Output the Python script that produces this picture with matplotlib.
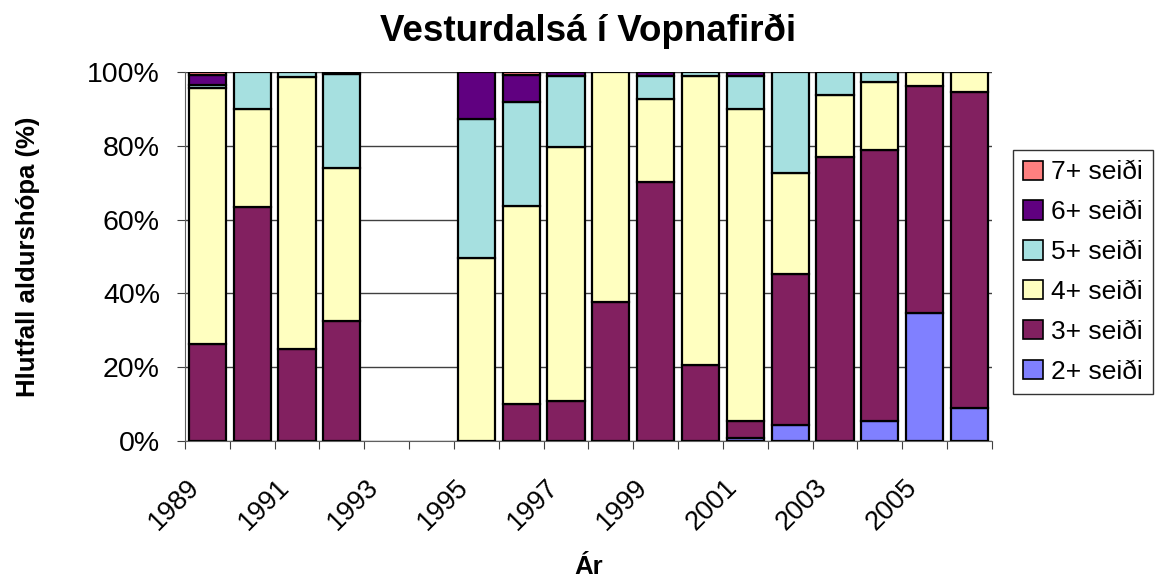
import numpy as np
import matplotlib
matplotlib.use("Agg")
import matplotlib.pyplot as plt
from matplotlib.patches import Patch
from matplotlib.transforms import ScaledTranslation

plt.rcParams['font.family'] = ['Liberation Sans', 'DejaVu Sans']

years = list(range(1989, 2007))
groups = ['2+ seiði', '3+ seiði', '4+ seiði', '5+ seiði', '6+ seiði', '7+ seiði']
colors = ['#8080FF', '#822060', '#FFFFC0', '#A6E0E0', '#600080', '#FF8080']

# hlutfall (%) eftir árum, 1993 og 1994 vantar
s2 = [0, 0, 0, 0, 0, 0, 0, 0, 0, 0, 0, 0, 0.7, 4.4, 0, 5.5, 34.6, 9.0]
s3 = [26.3, 63.4, 25.0, 32.4, 0, 0, 0, 10.0, 10.9, 37.6, 70.3, 20.5, 4.8, 40.9, 77.1, 73.4, 61.6, 85.6]
s4 = [69.4, 26.6, 73.6, 41.7, 0, 0, 49.5, 53.6, 68.9, 62.4, 22.3, 78.5, 84.5, 27.3, 16.8, 18.4, 3.8, 5.4]
s5 = [0.7, 10.0, 1.4, 25.3, 0, 0, 37.9, 28.3, 19.0, 0, 6.2, 1.0, 8.8, 27.4, 6.1, 2.7, 0, 0]
s6 = [2.9, 0, 0, 0.6, 0, 0, 12.6, 7.3, 1.2, 0, 1.2, 0, 1.2, 0, 0, 0, 0, 0]
s7 = [0.7, 0, 0, 0, 0, 0, 0, 0.8, 0, 0, 0, 0, 0, 0, 0, 0, 0, 0]
series = [s2, s3, s4, s5, s6, s7]

fig = plt.figure(figsize=(11.56, 5.81), dpi=100)
ax = fig.add_axes([0.160, 0.241, 0.698, 0.635])

x = np.arange(len(years))
bottom = np.zeros(len(years))
for vals, col in zip(series, colors):
    vals = np.array(vals, dtype=float)
    bars = ax.bar(x, vals, 0.83, bottom=bottom, color=col, edgecolor='black', linewidth=1.6, zorder=3)
    for b, v in zip(bars, vals):
        if v == 0:
            b.set_visible(False)
    bottom += vals

ax.set_xlim(-0.5, len(years) - 0.5)
ax.set_ylim(0, 100)
ax.set_yticks(np.arange(0, 101, 20))
ax.set_yticklabels([f'{v}%' for v in range(0, 101, 20)], fontsize=20.5)
ax.yaxis.grid(True, color='#404040', linewidth=1, zorder=0)

ax.set_xticks(np.arange(-0.5, len(years), 1))
ax.set_xticklabels([])
ax.set_xticks(x[::2], minor=True)
ax.set_xticklabels([str(y) for y in years[::2]], minor=True, fontsize=19.5, rotation=45, ha='right', rotation_mode='anchor')
ax.tick_params(axis='x', which='minor', length=0, pad=24)
ax.tick_params(axis='x', which='major', length=6, color='#404040')
ax.tick_params(axis='y', length=6, color='#404040', pad=12)
shift = ScaledTranslation(-0.21, 0, fig.dpi_scale_trans)
for lab in ax.get_xticklabels(minor=True):
    lab.set_transform(lab.get_transform() + shift)

for s in ['top', 'right']:
    ax.spines[s].set_visible(False)
ax.spines['left'].set_color('#606060')
ax.spines['bottom'].set_color('#606060')

ax.set_title('Vesturdalsá í Vopnafirði', fontsize=26.5, fontweight='bold', pad=22)
ax.set_ylabel('Hlutfall aldurshópa (%)', fontsize=18.5, fontweight='bold', labelpad=34)
ax.set_xlabel('Ár', fontsize=18.5, fontweight='bold', labelpad=14)

handles = [Patch(facecolor=c, edgecolor='black', linewidth=1.2) for c in colors]
leg = fig.legend(handles[::-1], groups[::-1], loc='upper left', bbox_to_anchor=(0.876, 0.742),
                 fontsize=19, frameon=True, fancybox=False, edgecolor='black',
                 handlelength=0.75, handleheight=0.75, handletextpad=0.3, labelspacing=0.6,
                 borderpad=0.4, borderaxespad=0)
leg.get_frame().set_linewidth(1)

fig.savefig('out.png', dpi=100)
